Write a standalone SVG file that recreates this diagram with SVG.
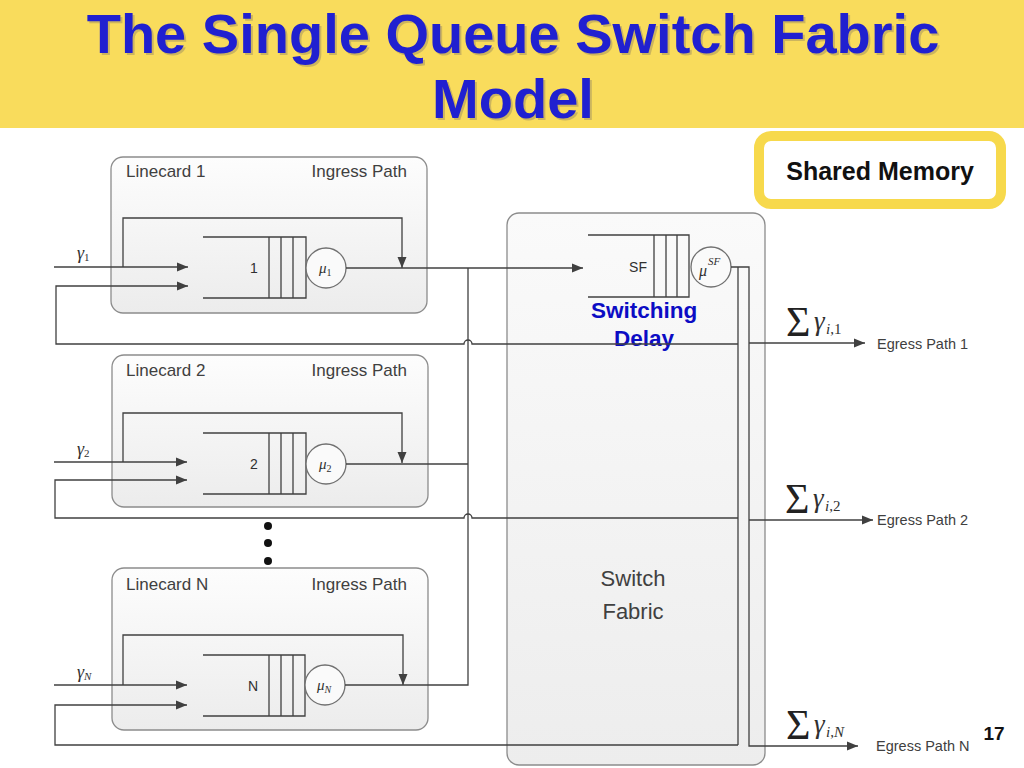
<svg xmlns="http://www.w3.org/2000/svg" width="1024" height="768" viewBox="0 0 1024 768">
<defs>
<linearGradient id="gbox" x1="0" y1="0" x2="0" y2="1">
<stop offset="0" stop-color="#fdfdfd"/>
<stop offset="1" stop-color="#ececec"/>
</linearGradient>
<linearGradient id="gsf" x1="0" y1="0" x2="0" y2="1">
<stop offset="0" stop-color="#fafafa"/>
<stop offset="1" stop-color="#ededed"/>
</linearGradient>
<marker id="arr" markerUnits="userSpaceOnUse" markerWidth="12" markerHeight="10" refX="11" refY="5" orient="auto">
<path d="M0,0.5 L11,5 L0,9.5 Z" fill="#404040"/>
</marker>
<style>
.ln{fill:none;stroke:#404040;stroke-width:1.3}
.box{fill:url(#gbox);stroke:#8c8c8c;stroke-width:1.3}
.q{fill:none;stroke:#404040;stroke-width:1.3}
.srv{fill:#fafafa;stroke:#707070;stroke-width:1.3}
.lbl{font-family:"Liberation Sans",Arial,sans-serif;font-size:17px;fill:#404040}
.ql{font-family:"Liberation Sans",Arial,sans-serif;font-size:14px;fill:#303030}
.m{font-family:"Liberation Serif","Times New Roman",serif;font-style:italic;fill:#303030}
.eg{font-family:"Liberation Sans",Arial,sans-serif;font-size:14.5px;fill:#404040}
.title{font-family:"Liberation Sans",Arial,sans-serif;font-weight:bold;font-size:56px;fill:#2020d0;text-anchor:middle}
.tsh{font-family:"Liberation Sans",Arial,sans-serif;font-weight:bold;font-size:56px;fill:#a09060;text-anchor:middle;opacity:0.5}
</style>
</defs>
<rect width="1024" height="768" fill="#ffffff"/>
<g id="title">
<rect x="0" y="0" width="1024" height="128" fill="#f9dc5c"/>
<text class="tsh" x="515" y="55">The Single Queue Switch Fabric</text>
<text class="tsh" x="515" y="120">Model</text>
<text class="title" x="513" y="53">The Single Queue Switch Fabric</text>
<text class="title" x="513" y="118">Model</text>
</g>
<g id="shared-memory">
<rect x="759" y="136" width="242" height="68" rx="12" fill="#ffffff" stroke="#f7d94c" stroke-width="10"/>
<text x="880" y="180" text-anchor="middle" font-family="Liberation Sans,Arial,sans-serif" font-weight="bold" font-size="25" fill="#111">Shared Memory</text>
</g>
<g id="switch-fabric">
<rect x="507" y="213" width="258" height="552" rx="12" fill="url(#gsf)" stroke="#8c8c8c" stroke-width="1.3"/>
<text x="633" y="586" text-anchor="middle" font-family="Liberation Sans,Arial,sans-serif" font-size="22" fill="#404040">Switch</text>
<text x="633" y="619" text-anchor="middle" font-family="Liberation Sans,Arial,sans-serif" font-size="22" fill="#404040">Fabric</text>
</g>
<g id="linecard-1">
<rect class="box" x="111" y="157" width="316" height="156" rx="12"/>
<text class="lbl" x="126" y="177">Linecard 1</text>
<text class="lbl" x="407" y="177" text-anchor="end">Ingress Path</text>
<path class="q" d="M203,237 H306 V298 H203 M269,237 V298 M281,237 V298 M293,237 V298"/>
<text class="ql" x="254" y="273" text-anchor="middle">1</text>
<circle class="srv" cx="326" cy="268" r="20"/>
<text class="m" x="319" y="273" font-size="15">μ<tspan font-size="10" font-style="normal" dy="3">1</tspan></text>
</g>
<g id="linecard-2">
<rect class="box" x="112" y="355" width="316" height="152" rx="12"/>
<text class="lbl" x="126" y="376">Linecard 2</text>
<text class="lbl" x="407" y="376" text-anchor="end">Ingress Path</text>
<path class="q" d="M203,433 H306 V494 H203 M269,433 V494 M281,433 V494 M293,433 V494"/>
<text class="ql" x="254" y="469" text-anchor="middle">2</text>
<circle class="srv" cx="326" cy="464" r="20"/>
<text class="m" x="319" y="469" font-size="15">μ<tspan font-size="10" font-style="normal" dy="3">2</tspan></text>
</g>
<g id="linecard-n">
<rect class="box" x="112" y="568" width="316" height="162" rx="12"/>
<text class="lbl" x="126" y="590">Linecard N</text>
<text class="lbl" x="407" y="590" text-anchor="end">Ingress Path</text>
<path class="q" d="M203,655 H305 V716 H203 M269,655 V716 M281,655 V716 M293,655 V716"/>
<text class="ql" x="253" y="691" text-anchor="middle">N</text>
<circle class="srv" cx="325" cy="685" r="20"/>
<text class="m" x="317" y="690" font-size="15">μ<tspan font-size="10" dy="3">N</tspan></text>
</g>
<g id="sf-queue">
<path class="q" d="M588,235 H689 V297 H588 M654,235 V297 M666,235 V297 M677,235 V297"/>
<text class="ql" x="638" y="272" text-anchor="middle">SF</text>
<circle class="srv" cx="711" cy="267" r="20"/>
<text class="m" x="699" y="276" font-size="16">μ<tspan font-size="11" dx="1" dy="-11">SF</tspan></text>
<text x="644" y="318" text-anchor="middle" font-family="Liberation Sans,Arial,sans-serif" font-weight="bold" font-size="22.5" fill="#0c0cc4">Switching</text>
<text x="644" y="346" text-anchor="middle" font-family="Liberation Sans,Arial,sans-serif" font-weight="bold" font-size="22.5" fill="#0c0cc4">Delay</text>
</g>
<g id="dots" fill="#111">
<circle cx="268" cy="526" r="4"/>
<circle cx="268" cy="543" r="4"/>
<circle cx="268" cy="561" r="4"/>
</g>
<g id="connectors">
<path class="ln" d="M54,267 H188" marker-end="url(#arr)"/>
<path class="ln" d="M123,267 V218 H402 V268" marker-end="url(#arr)"/>
<path class="ln" d="M738,344 H472 A4,4 0 0 0 464,344 H56 V286 H188" marker-end="url(#arr)"/>
<path class="ln" d="M346,268 H583" marker-end="url(#arr)"/>
<path class="ln" d="M54,462 H187" marker-end="url(#arr)"/>
<path class="ln" d="M123,462 V413 H402 V463" marker-end="url(#arr)"/>
<path class="ln" d="M738,518 H472 A4,4 0 0 0 464,518 H55 V480 H187" marker-end="url(#arr)"/>
<path class="ln" d="M346,464 H468"/>
<path class="ln" d="M54,685 H187" marker-end="url(#arr)"/>
<path class="ln" d="M123,685 V635 H403 V685" marker-end="url(#arr)"/>
<path class="ln" d="M738,745 H55 V705 H187" marker-end="url(#arr)"/>
<path class="ln" d="M345,685 H468 V268"/>
<path class="ln" d="M731,267 H749 V746 H858" marker-end="url(#arr)"/>
<path class="ln" d="M738,267 V745"/>
<path class="ln" d="M749,343 H865" marker-end="url(#arr)"/>
<path class="ln" d="M749,520 H873" marker-end="url(#arr)"/>
</g>
<g id="labels">
<text class="m" x="77" y="259" font-size="18">γ<tspan font-size="11" font-style="normal" dy="2">1</tspan></text>
<text class="m" x="77" y="455" font-size="18">γ<tspan font-size="11" font-style="normal" dy="2">2</tspan></text>
<text class="m" x="77" y="678" font-size="18">γ<tspan font-size="11" dy="2">N</tspan></text>
<g transform="translate(786,336)">
<text font-family="Liberation Serif,serif" font-size="42" fill="#222">Σ</text>
<text class="m" x="28" y="-6" font-size="27" fill="#222">γ</text>
<text class="m" x="40" y="-2" font-size="15" fill="#222">i<tspan font-style="normal">,1</tspan></text>
</g>
<g transform="translate(785,513)">
<text font-family="Liberation Serif,serif" font-size="42" fill="#222">Σ</text>
<text class="m" x="28" y="-6" font-size="27" fill="#222">γ</text>
<text class="m" x="40" y="-2" font-size="15" fill="#222">i<tspan font-style="normal">,2</tspan></text>
</g>
<g transform="translate(786,739)">
<text font-family="Liberation Serif,serif" font-size="42" fill="#222">Σ</text>
<text class="m" x="28" y="-6" font-size="27" fill="#222">γ</text>
<text class="m" x="40" y="-2" font-size="15" fill="#222">i<tspan font-style="normal">,</tspan>N</text>
</g>
<text class="eg" x="877" y="349">Egress Path 1</text>
<text class="eg" x="877" y="525">Egress Path 2</text>
<text class="eg" x="876" y="751">Egress Path N</text>
<text x="994" y="740" text-anchor="middle" font-family="Liberation Sans,Arial,sans-serif" font-weight="bold" font-size="19" fill="#111">17</text>
</g>
</svg>
